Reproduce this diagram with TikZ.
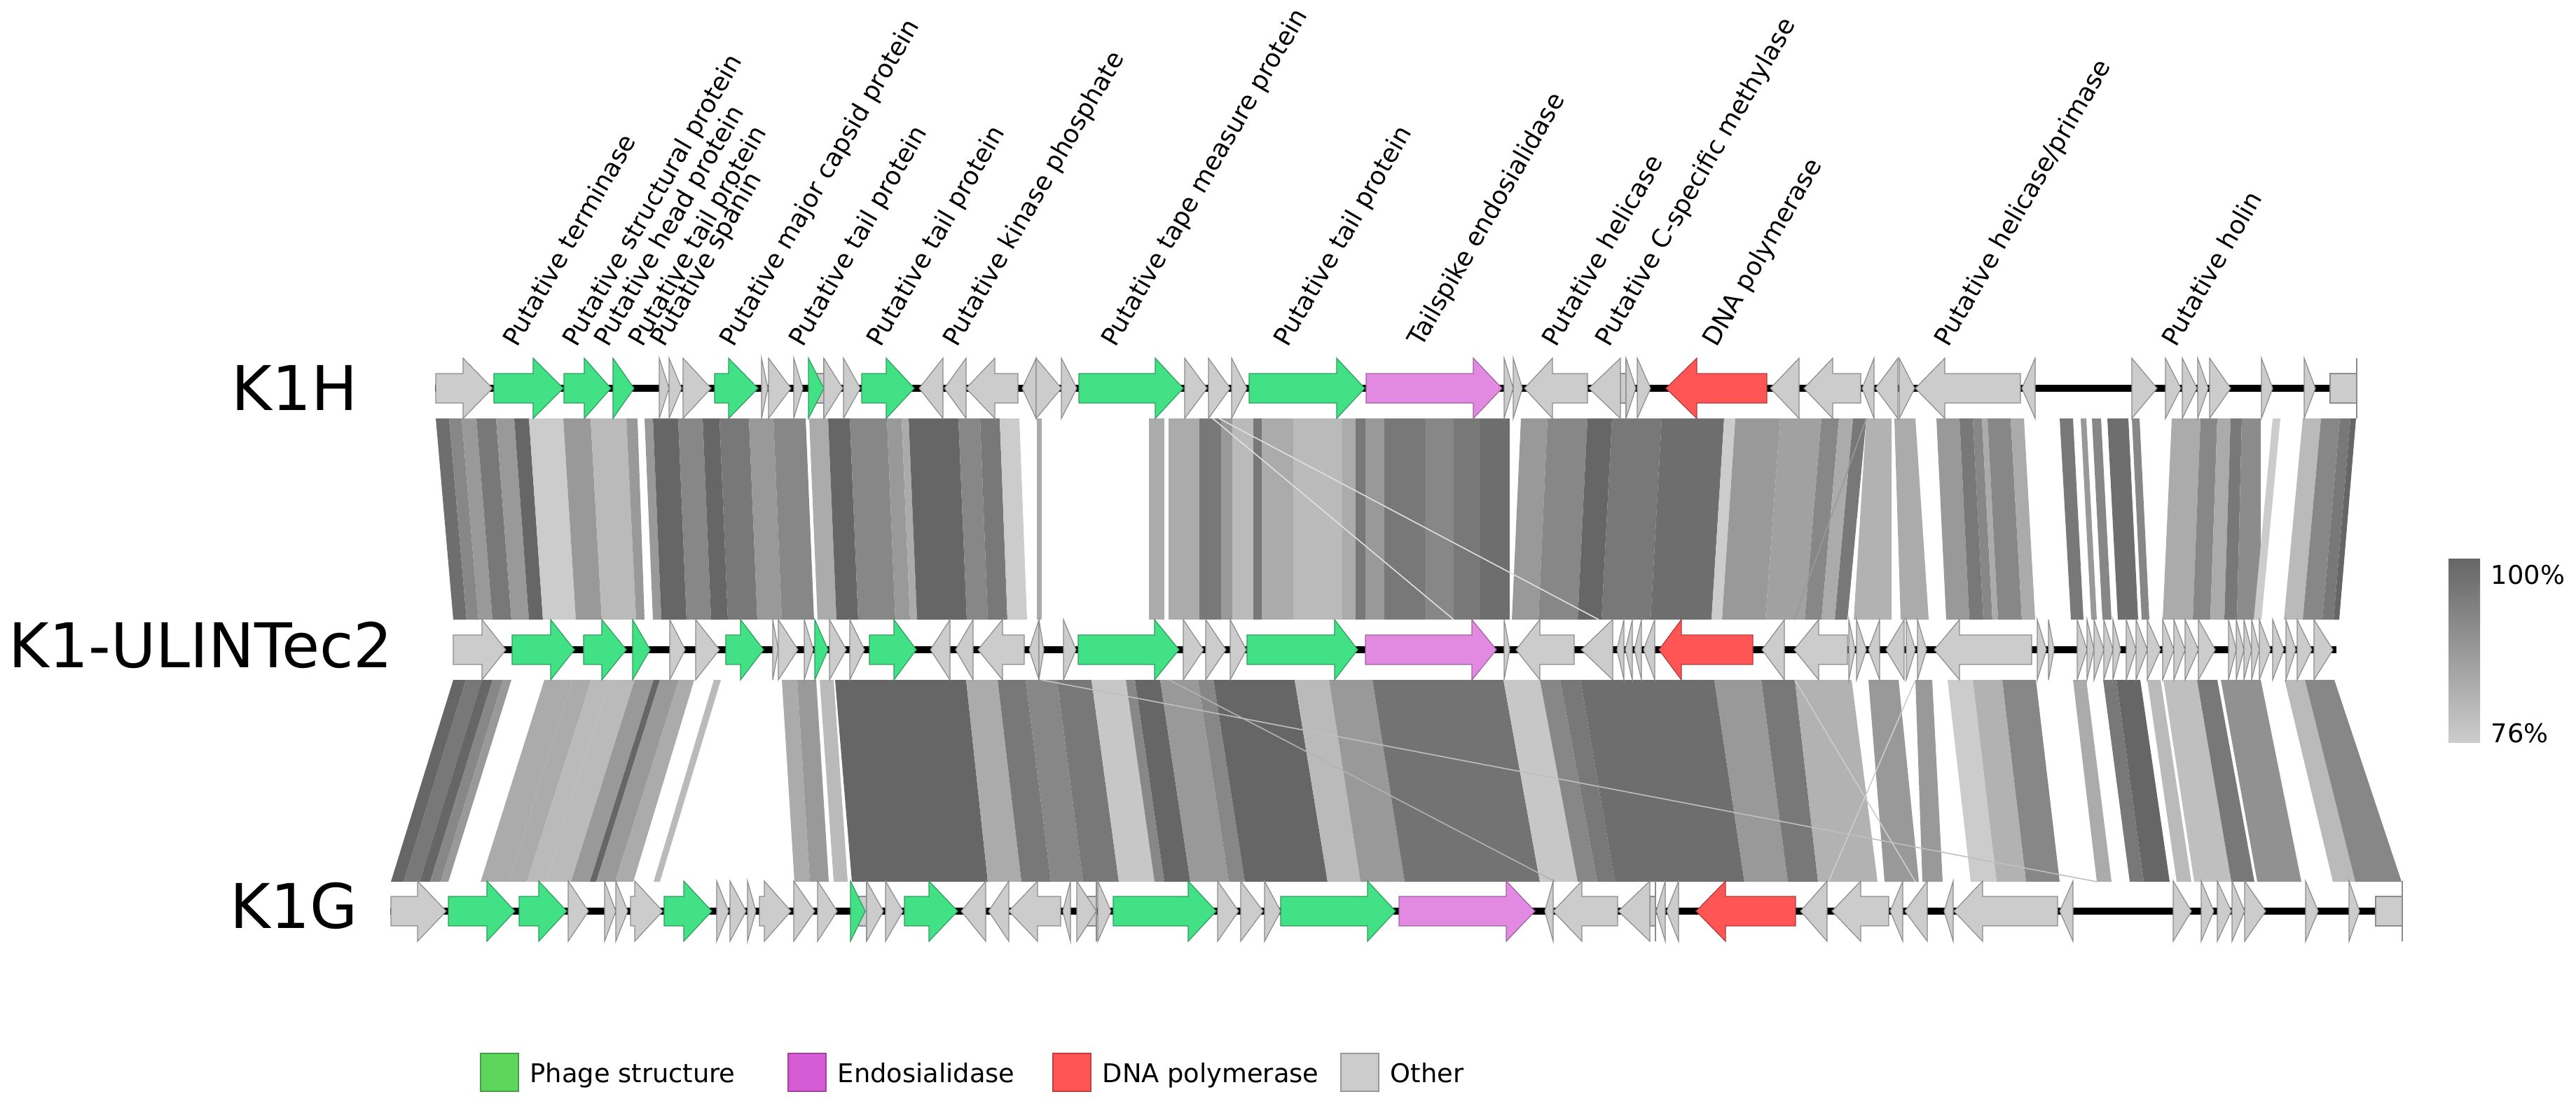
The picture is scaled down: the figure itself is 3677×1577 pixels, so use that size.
\documentclass[tikz,border=0pt]{standalone}
\usepackage{fontspec}
\setmainfont{DejaVu Sans}
\usepackage{tikz}

\definecolor{strgreen}{HTML}{42E185}
\definecolor{endopink}{HTML}{E28AE2}
\definecolor{polred}{HTML}{FF5555}
\definecolor{othgray}{HTML}{CCCCCC}
\definecolor{legreen}{HTML}{5CD65C}
\definecolor{lepink}{HTML}{D65CD6}

% one gene: row y, tail, head base, tip, style
\newcommand{\gene}[5]{%
  \filldraw[#5] (#2,#1-21) -- (#3,#1-21) -- (#3,#1-43) -- (#4,#1) -- (#3,#1+43) -- (#3,#1+21) -- (#2,#1+21) -- cycle;}

\begin{document}
\begin{tikzpicture}[x=0.25pt, y=-0.25pt,
  strc/.style={fill=strgreen, draw=strgreen!70!black, line width=0.3pt},
  endo/.style={fill=endopink, draw=endopink!70!black, line width=0.3pt},
  dpol/.style={fill=polred, draw=polred!70!black, line width=0.3pt},
  othr/.style={fill=othgray, draw=black!45, line width=0.3pt},
  glabel/.style={rotate=60, anchor=base west, inner sep=0pt, font=\fontsize{9.0}{11}\selectfont},
  rowname/.style={anchor=west, inner sep=0pt, font=\fontsize{22}{26}\selectfont},
  small/.style={inner sep=0pt, font=\fontsize{9.2}{11}\selectfont}]
	\useasboundingbox (0,0) rectangle (3677,1577);

	% comparisons K1H - K1-ULINTec2
	\foreach \a/\b/\c/\d/\s in {622/641/647/666/57, 641/659/666/683/47, 659/680/683/703/40, 680/708/703/730/53,
		708/734/730/755/40, 734/755/755/775/60, 755/804/775/822/20, 804/843/822/859/40, 843/894/859/908/27,
		894/910/908/920/40, 920/932/932/944/40, 932/968/944/980/60, 968/1003/980/1015/47, 1003/1027/1015/1039/60,
		1027/1069/1039/1081/53, 1069/1104/1081/1116/40, 1104/1150/1116/1162/47, 1155/1182/1167/1194/33,
		1182/1213/1194/1225/60, 1213/1266/1225/1278/47, 1266/1287/1278/1299/40, 1287/1297/1299/1309/33,
		1297/1368/1309/1380/60, 1368/1399/1380/1410/47, 1399/1427/1410/1438/53, 1427/1455/1438/1466/20,
		1480/1487/1480/1487/33,
		1640/1662/1640/1662/33, 1668/1712/1668/1712/33, 1712/1743/1712/1743/53, 1743/1759/1743/1759/40,
		1759/1789/1759/1789/27, 1789/1801/1789/1801/53, 1801/1846/1801/1846/33, 1846/1916/1846/1916/27,
		1916/1935/1916/1935/33, 1935/1949/1935/1949/53, 1949/1976/1949/1976/40, 1976/2034/1976/2034/53,
		2034/2075/2034/2075/47, 2075/2113/2075/2113/53, 2113/2155/2113/2155/57,
		2171/2209/2158/2196/40, 2209/2266/2196/2252/47, 2266/2301/2252/2286/60, 2301/2372/2286/2356/53,
		2372/2461/2356/2443/57, 2461/2477/2443/2458/20, 2477/2541/2458/2520/40, 2541/2600/2520/2576/37,
		2600/2625/2576/2600/47, 2625/2645/2600/2619/33, 2645/2664/2619/2637/53, 2664/2700/2646/2700/30,
		2704/2734/2713/2753/33, 2764/2797/2778/2811/40, 2797/2816/2811/2831/53, 2816/2829/2831/2844/47,
		2829/2837/2844/2852/33, 2837/2870/2852/2886/47, 2870/2889/2886/2905/33,
		2940/2959/2956/2974/53, 2970/2978/2985/2993/40, 2986/2999/3001/3014/47, 3008/3038/3023/3052/57,
		3043/3054/3057/3068/47, 3100/3141/3087/3130/33, 3141/3165/3130/3155/47, 3165/3184/3155/3175/33,
		3184/3200/3175/3193/53, 3200/3227/3193/3227/45, 3244/3255/3217/3228/20,
		3287/3313/3260/3287/27, 3313/3340/3287/3315/47, 3340/3355/3315/3331/53, 3355/3363/3331/3339/60}
		\fill[black!\s] (\a,597) -- (\b,597) -- (\d,884) -- (\c,884) -- cycle;
	\draw[black!12, line width=0.4pt] (1731,597) -- (2075,884);
	\draw[black!12, line width=0.4pt] (1740,597) -- (2282,884);
	\draw[black!40, line width=0.4pt] (2664,597) -- (2561,884);

	% comparisons K1-ULINTec2 - K1G
	\foreach \a/\b/\c/\d/\s in {647/665/558/576/60, 665/688/576/599/53, 688/703/599/614/60, 703/718/614/629/47,
		718/730/629/640/40, 777/817/686/726/33, 817/844/726/752/33, 844/870/752/779/27, 870/906/779/815/27,
		906/933/815/842/40, 933/942/842/851/60, 942/969/851/878/40, 969/991/878/904/33, 1019/1029/933/942/27,
		1116/1138/1134/1156/33, 1138/1165/1156/1183/40, 1170/1190/1190/1210/27, 1192/1379/1216/1410/60,
		1379/1424/1410/1458/33, 1424/1464/1458/1500/53, 1464/1509/1500/1546/47, 1509/1558/1546/1597/53,
		1558/1607/1597/1648/22, 1607/1620/1648/1662/47, 1620/1656/1662/1699/60, 1656/1710/1699/1754/40,
		1710/1732/1754/1777/47, 1732/1848/1777/1895/60, 1848/1897/1895/1942/27, 1897/1959/1942/2005/40,
		1959/2146/2005/2198/55, 2146/2198/2198/2252/22, 2198/2227/2252/2280/47, 2227/2256/2280/2305/53,
		2256/2447/2305/2490/57, 2447/2514/2490/2552/40, 2514/2562/2552/2595/53, 2562/2643/2595/2680/30,
		2667/2710/2690/2739/40, 2734/2758/2744/2773/40,
		2780/2816/2813/2850/20, 2816/2858/2850/2892/30, 2858/2906/2892/2940/47,
		2959/2978/2993/3014/33, 3002/3021/3040/3060/53, 3021/3055/3060/3097/60, 3065/3084/3107/3128/27,
		3088/3136/3132/3185/25, 3136/3165/3185/3218/53, 3170/3227/3222/3285/43, 3261/3290/3330/3362/27,
		3290/3332/3362/3428/47}
		\fill[black!\s] (\a,970) -- (\b,970) -- (\d,1258) -- (\c,1258) -- cycle;
	\draw[black!30, line width=0.4pt] (1669,970) -- (2220,1258);
	\draw[black!25, line width=0.4pt] (1486,970) -- (2993,1258);
	\draw[black!20, line width=0.4pt] (2562,970) -- (2734,1258);
	\draw[black!20, line width=0.4pt] (2734,970) -- (2610,1258);

	% K1H
	\draw[line width=2.5pt] (621,554) -- (3364,554);
	\foreach \t/\h/\p/\c in {622/661/703/othr, 705/761/804/strc, 805/834/872/strc, 875/875/905/strc,
		941/941/955/othr, 955/955/973/othr, 975/975/1015/othr, 1020/1040/1082/strc, 1087/1087/1096/othr,
		1097/1097/1129/othr, 1133/1133/1146/othr, 1160/1176/1176/othr, 1154/1154/1176/strc, 1176/1176/1203/othr,
		1204/1204/1228/othr, 1230/1265/1305/strc, 1346/1346/1312/othr, 1379/1379/1348/othr, 1453/1420/1379/othr,
		1479/1479/1459/othr, 1479/1479/1515/othr, 1515/1515/1537/othr, 1540/1649/1689/strc, 1691/1691/1723/othr,
		1725/1725/1756/othr, 1758/1758/1780/othr, 1783/1908/1948/strc, 1950/2103/2144/endo, 2147/2147/2160/othr,
		2160/2160/2173/othr, 2266/2216/2176/othr, 2313/2321/2321/othr, 2313/2313/2268/othr, 2321/2321/2335/othr,
		2337/2337/2356/othr, 2522/2422/2378/dpol, 2568/2568/2527/othr, 2656/2616/2575/othr, 2675/2675/2658/othr,
		2709/2709/2677/othr, 2711/2711/2733/othr, 2884/2776/2734/othr, 2905/2905/2886/othr, 3043/3043/3079/othr,
		3091/3091/3113/othr, 3115/3115/3136/othr, 3137/3137/3152/othr, 3154/3154/3184/othr, 3228/3228/3244/othr,
		3289/3289/3305/othr, 3326/3364/3364/othr}
		\gene{554}{\t}{\h}{\p}{\c};

	% K1-ULINTec2
	\draw[line width=2.5pt] (647,927) -- (3335,927);
	\foreach \t/\h/\p/\c in {647/688/722/othr, 731/786/820/strc, 833/859/894/strc, 903/903/928/strc,
		956/956/978/othr, 993/993/1027/othr, 1036/1057/1090/strc, 1103/1103/1111/othr, 1111/1111/1139/othr,
		1148/1148/1161/othr, 1163/1163/1182/strc, 1184/1184/1208/othr, 1213/1213/1234/othr, 1241/1276/1308/strc,
		1356/1356/1328/othr, 1389/1389/1364/othr, 1462/1431/1396/othr, 1483/1483/1469/othr, 1483/1483/1490/othr,
		1518/1518/1536/othr, 1539/1648/1683/strc, 1689/1689/1718/othr, 1721/1721/1750/othr, 1756/1756/1779/othr,
		1780/1905/1938/strc, 1949/2101/2136/endo, 2147/2147/2155/othr, 2247/2198/2164/othr, 2302/2302/2257/othr,
		2318/2318/2308/othr, 2330/2330/2320/othr, 2343/2343/2333/othr, 2362/2362/2346/othr, 2502/2400/2368/dpol,
		2547/2547/2515/othr, 2637/2596/2561/othr, 2639/2639/2648/othr, 2650/2650/2664/othr, 2683/2683/2667/othr,
		2718/2718/2692/othr, 2721/2721/2734/othr, 2737/2737/2750/othr, 2900/2797/2761/othr, 2908/2908/2921/othr,
		2924/2924/2932/othr, 2965/2965/2979/othr, 2979/2979/2989/othr, 2989/2989/3003/othr, 3003/3003/3016/othr,
		3016/3016/3027/othr, 3035/3035/3049/othr, 3049/3049/3065/othr, 3065/3065/3084/othr, 3087/3087/3103/othr,
		3103/3103/3119/othr, 3119/3119/3138/othr, 3138/3138/3162/othr, 3181/3181/3192/othr, 3192/3192/3203/othr,
		3203/3203/3214/othr, 3214/3214/3225/othr, 3225/3225/3241/othr, 3244/3244/3260/othr, 3263/3263/3277/othr,
		3279/3279/3300/othr, 3303/3303/3330/othr}
		\gene{927}{\t}{\h}{\p}{\c};

	% K1G
	\draw[line width=2.5pt] (557,1300) -- (3429,1300);
	\foreach \t/\h/\p/\c in {558/596/637/othr, 640/695/735/strc, 741/769/809/strc, 811/811/840/othr,
		863/863/879/othr, 879/879/896/othr, 900/906/946/othr, 948/976/1016/strc, 1023/1023/1040/othr,
		1042/1042/1065/othr, 1067/1067/1079/othr, 1084/1091/1129/othr, 1133/1133/1163/othr, 1167/1167/1195/othr,
		1225/1237/1237/othr, 1214/1214/1235/strc, 1237/1237/1261/othr, 1264/1264/1289/othr, 1291/1326/1367/strc,
		1407/1407/1372/othr, 1440/1440/1411/othr, 1514/1481/1440/othr, 1528/1528/1517/othr, 1551/1565/1565/othr,
		1537/1537/1565/othr, 1567/1567/1586/othr, 1589/1696/1736/strc, 1738/1738/1768/othr, 1771/1771/1803/othr,
		1805/1805/1828/othr, 1828/1952/1992/strc, 1997/2150/2191/endo, 2217/2217/2205/othr, 2309/2258/2217/othr,
		2355/2363/2363/othr, 2355/2355/2310/othr, 2377/2377/2364/othr, 2396/2396/2379/othr, 2563/2463/2421/dpol,
		2608/2608/2570/othr, 2696/2656/2615/othr, 2716/2716/2698/othr, 2751/2751/2719/othr, 2788/2788/2775/othr,
		2937/2830/2789/othr, 2959/2959/2940/othr, 3102/3102/3128/othr, 3142/3142/3160/othr, 3165/3165/3185/othr,
		3186/3186/3204/othr, 3204/3204/3234/othr, 3291/3291/3309/othr, 3353/3353/3368/othr, 3391/3429/3429/othr}
		\gene{1300}{\t}{\h}{\p}{\c};

	% names of the genomes
	\node[rowname] (k1h) at (330,553) {K1H};
	\node[rowname] (k1ul) at (12,920) {K1-ULINTec2};
	\node[rowname] (k1g) at (328,1292) {K1G};

	% gene labels
	\foreach \x/\txt [count=\i] in {738/Putative terminase, 823/Putative structural protein, 868/Putative head protein,
		917/Putative tail protein, 948/Putative spanin, 1047/Putative major capsid protein, 1146/Putative tail protein,
		1257/Putative tail protein, 1366/Putative kinase phosphate, 1592/Putative tape measure protein,
		1838/Putative tail protein, 2029/Tailspike endosialidase, 2221/Putative helicase,
		2297/Putative C-specific methylase, 2450/DNA polymerase, 2781/{Putative helicase/primase}, 3106/Putative holin}
		\node[glabel] (lab\i) at (\x,497) {\txt};

	% identity scale
	\shade[top color=black!60, bottom color=black!20] (3495,797) rectangle (3540,1059);
	\node[small, anchor=west] (hi) at (3555,820) {100\%};
	\node[small, anchor=west] (lo) at (3555,1046) {76\%};

	% legend
	\foreach \x/\col/\txt [count=\i] in {686/legreen/Phage structure, 1125/lepink/Endosialidase,
		1503/polred/DNA polymerase, 1914/othgray/Other} {
		\filldraw[fill=\col, draw=\col!75!black, line width=0.4pt] (\x,1503) rectangle (\x+54,1557);
		\node[small, anchor=base west] (leg\i) at (\x+70,1544) {\txt};
	}
\end{tikzpicture}
\end{document}
